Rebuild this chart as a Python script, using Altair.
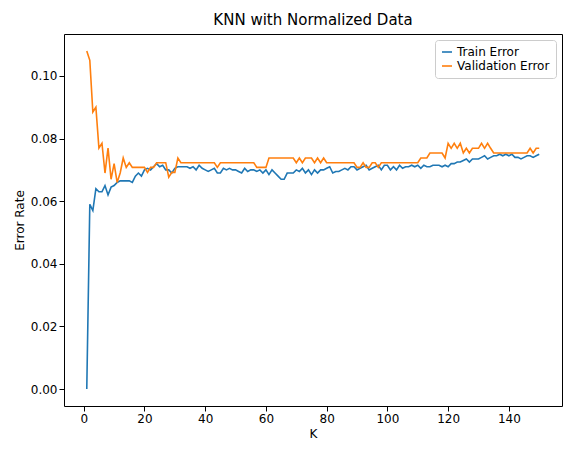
import altair as alt
import pandas as pd

k_values = list(range(1, 151))

train_error = [
    0.0000, 0.0590, 0.0570, 0.0640, 0.0630, 0.0630, 0.0650, 0.0620, 0.0645, 0.0650,
    0.0660, 0.0665, 0.0665, 0.0665, 0.0665, 0.0660, 0.0680, 0.0690, 0.0680, 0.0700,
    0.0705, 0.0700, 0.0710, 0.0720, 0.0710, 0.0715, 0.0700, 0.0700, 0.0690, 0.0705,
    0.0710, 0.0710, 0.0710, 0.0710, 0.0705, 0.0710, 0.0700, 0.0715, 0.0705, 0.0700,
    0.0695, 0.0700, 0.0705, 0.0690, 0.0690, 0.0705, 0.0700, 0.0705, 0.0700, 0.0700,
    0.0695, 0.0690, 0.0705, 0.0695, 0.0700, 0.0700, 0.0695, 0.0700, 0.0690, 0.0700,
    0.0685, 0.0700, 0.0690, 0.0680, 0.0670, 0.0670, 0.0690, 0.0690, 0.0690, 0.0700,
    0.0695, 0.0705, 0.0690, 0.0700, 0.0685, 0.0700, 0.0690, 0.0700, 0.0700, 0.0705,
    0.0710, 0.0690, 0.0695, 0.0695, 0.0700, 0.0705, 0.0700, 0.0710, 0.0710, 0.0700,
    0.0705, 0.0710, 0.0715, 0.0700, 0.0705, 0.0710, 0.0715, 0.0700, 0.0715, 0.0715,
    0.0700, 0.0710, 0.0700, 0.0715, 0.0705, 0.0710, 0.0710, 0.0715, 0.0710, 0.0715,
    0.0705, 0.0715, 0.0710, 0.0710, 0.0715, 0.0715, 0.0715, 0.0710, 0.0715, 0.0710,
    0.0720, 0.0720, 0.0725, 0.0725, 0.0730, 0.0735, 0.0725, 0.0735, 0.0735, 0.0735,
    0.0740, 0.0745, 0.0735, 0.0740, 0.0745, 0.0745, 0.0750, 0.0745, 0.0750, 0.0745,
    0.0750, 0.0740, 0.0740, 0.0735, 0.0740, 0.0745, 0.0745, 0.0740, 0.0745, 0.0750,
]

validation_error = [
    0.1080, 0.1050, 0.0885, 0.0900, 0.0770, 0.0785, 0.0690, 0.0770, 0.0670, 0.0720,
    0.0660, 0.0690, 0.0738, 0.0708, 0.0723, 0.0708, 0.0708, 0.0708, 0.0708, 0.0708,
    0.0692, 0.0708, 0.0708, 0.0723, 0.0723, 0.0723, 0.0723, 0.0677, 0.0692, 0.0692,
    0.0738, 0.0723, 0.0723, 0.0723, 0.0723, 0.0723, 0.0723, 0.0723, 0.0723, 0.0723,
    0.0723, 0.0723, 0.0723, 0.0708, 0.0723, 0.0723, 0.0723, 0.0723, 0.0723, 0.0723,
    0.0723, 0.0723, 0.0723, 0.0723, 0.0723, 0.0723, 0.0708, 0.0708, 0.0708, 0.0708,
    0.0738, 0.0738, 0.0738, 0.0738, 0.0738, 0.0738, 0.0738, 0.0738, 0.0738, 0.0723,
    0.0738, 0.0723, 0.0738, 0.0738, 0.0738, 0.0723, 0.0738, 0.0723, 0.0738, 0.0723,
    0.0723, 0.0723, 0.0723, 0.0723, 0.0723, 0.0723, 0.0723, 0.0723, 0.0723, 0.0708,
    0.0708, 0.0723, 0.0708, 0.0708, 0.0723, 0.0723, 0.0708, 0.0723, 0.0723, 0.0723,
    0.0723, 0.0723, 0.0723, 0.0723, 0.0723, 0.0723, 0.0723, 0.0723, 0.0723, 0.0723,
    0.0738, 0.0738, 0.0738, 0.0754, 0.0754, 0.0754, 0.0754, 0.0754, 0.0738, 0.0785,
    0.0769, 0.0785, 0.0769, 0.0785, 0.0754, 0.0769, 0.0754, 0.0769, 0.0769, 0.0769,
    0.0785, 0.0769, 0.0785, 0.0769, 0.0754, 0.0754, 0.0754, 0.0754, 0.0754, 0.0754,
    0.0754, 0.0754, 0.0754, 0.0754, 0.0754, 0.0754, 0.0769, 0.0754, 0.0769, 0.0769,
]

series_names = ["Train Error", "Validation Error"]
series_colors = ["#1f77b4", "#ff7f0e"]

df = pd.concat([
    pd.DataFrame({"K": k_values, "Error Rate": train_error, "series": series_names[0]}),
    pd.DataFrame({"K": k_values, "Error Rate": validation_error, "series": series_names[1]}),
])

font = "DejaVu Sans"

chart = alt.Chart(df).mark_line(strokeWidth=1.6, clip=True).encode(
    x=alt.X("K:Q", title="K", scale=alt.Scale(domain=[-6.5, 157.5], nice=False),
            axis=alt.Axis(values=list(range(0, 141, 20)), grid=False, labelFlush=False)),
    y=alt.Y("Error Rate:Q", title="Error Rate", scale=alt.Scale(domain=[-0.0054, 0.1134], nice=False),
            axis=alt.Axis(values=[0, 0.02, 0.04, 0.06, 0.08, 0.10], format=".2f", grid=False)),
    color=alt.Color("series:N", scale=alt.Scale(domain=series_names, range=series_colors),
                    legend=alt.Legend(title=None, orient="top-right", offset=6, symbolType="stroke",
                                      symbolStrokeWidth=1.6, labelFontSize=12, strokeColor="#cccccc",
                                      fillColor="white", padding=6, cornerRadius=3)),
).properties(
    width=498, height=372,
    title=alt.TitleParams("KNN with Normalized Data", fontSize=15, fontWeight="normal", font=font, offset=6),
).configure_view(stroke="black").configure_axis(
    domain=False, labelFont=font, titleFont=font, labelFontSize=12, titleFontSize=12,
    titleFontWeight="normal", tickColor="black", labelColor="black",
).configure_legend(labelFont=font)

chart.save("out.html", embed_options={"renderer": "svg", "actions": False})
